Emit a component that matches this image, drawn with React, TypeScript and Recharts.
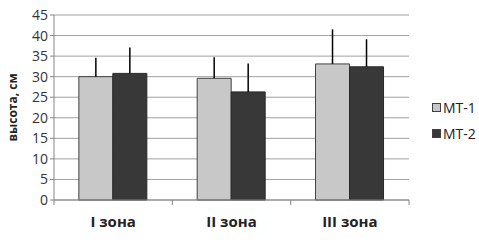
import { BarChart, Bar, XAxis, YAxis, CartesianGrid, ErrorBar } from 'recharts';

const zones = ['I зона', 'II зона', 'III зона'];
const mt1 = [30.0, 29.6, 33.1];
const mt2 = [30.8, 26.3, 32.4];
const mt1Err = [4.6, 5.1, 8.4];
const mt2Err = [6.3, 6.9, 6.7];
const yTicks = [0, 5, 10, 15, 20, 25, 30, 35, 40, 45];

const data = zones.map((zone, i) => ({
  zone,
  mt1: mt1[i],
  mt2: mt2[i],
  mt1Err: [0, mt1Err[i]],
  mt2Err: [0, mt2Err[i]],
}));

const FONT = 'Open Sans, "Noto Sans", sans-serif';

function ZoneTick(props: any) {
  const { x, y, payload, index } = props;
  const half = payload?.offset || 59;
  return (
    <g>
      <line x1={x - half} y1={y} x2={x - half} y2={y + 5} stroke="#868686" />
      {index === zones.length - 1 && (
        <line x1={x + half} y1={y} x2={x + half} y2={y + 5} stroke="#868686" />
      )}
      <text x={x} y={y + 27} textAnchor="middle" fontSize={15} fontWeight="bold" fill="#222" fontFamily={FONT}>
        {payload.value}
      </text>
    </g>
  );
}

export default function App() {
  return (
    <div style={{ position: 'relative', width: 479, height: 246, background: '#fff' }}>
      <style>{'body{margin:0}'}</style>
      <BarChart
        width={479}
        height={246}
        data={data}
        margin={{ top: 15, right: 70, bottom: 16, left: 0 }}
        barCategoryGap="21%"
        barGap={0}
      >
        <CartesianGrid vertical={false} stroke="#a0a0a0" />
        <XAxis
          dataKey="zone"
          height={30}
          stroke="#868686"
          tickLine={false}
          tickSize={0}
          tickMargin={0}
          tick={<ZoneTick />}
          interval={0}
        />
        <YAxis
          width={54}
          domain={[0, 45]}
          ticks={yTicks}
          interval={0}
          stroke="#868686"
          tickSize={4}
          tick={{ fontSize: 14, fill: '#333', fontFamily: FONT }}
          label={{
            value: 'высота, см',
            angle: -90,
            position: 'center',
            dx: -14,
            style: { fontSize: 12, fontWeight: 'bold', fill: '#222', fontFamily: FONT },
          }}
        />
        <Bar dataKey="mt1" fill="#c8c8c8" stroke="#404040" strokeWidth={1} isAnimationActive={false}>
          <ErrorBar dataKey="mt1Err" width={0} stroke="#000" strokeWidth={1.5} />
        </Bar>
        <Bar dataKey="mt2" fill="#383838" stroke="#2a2a2a" strokeWidth={1} isAnimationActive={false}>
          <ErrorBar dataKey="mt2Err" width={0} stroke="#000" strokeWidth={1.5} />
        </Bar>
      </BarChart>
      <div style={{ position: 'absolute', left: 432, top: 94, fontFamily: FONT, fontSize: 14, color: '#222' }}>
        {[
          { name: 'MT-1', color: '#c8c8c8' },
          { name: 'MT-2', color: '#383838' },
        ].map((l) => (
          <div key={l.name} style={{ display: 'flex', alignItems: 'center', height: 26 }}>
            <span style={{ display: 'inline-block', width: 7, height: 7, background: l.color, border: '1px solid #404040', marginRight: 2 }} />
            {l.name}
          </div>
        ))}
      </div>
    </div>
  );
}
